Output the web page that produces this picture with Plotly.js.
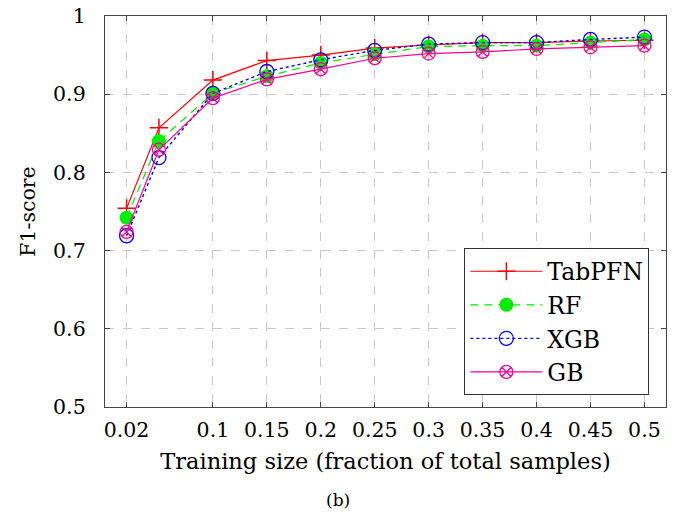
<!DOCTYPE html>
<html>
<head>
<meta charset="utf-8">
<script src="https://cdn.plot.ly/plotly-3.0.1.min.js"></script>
<style>html,body{margin:0;padding:0;background:#fff;}#chart{width:677px;height:519px;}</style>
</head>
<body>
<div id="chart"></div>
<script>
const trainSize = [0.02, 0.05, 0.1, 0.15, 0.2, 0.25, 0.3, 0.35, 0.4, 0.45, 0.5];
const tabpfn = [0.754, 0.857, 0.918, 0.943, 0.950, 0.959, 0.963, 0.966, 0.966, 0.968, 0.969];
const rf     = [0.742, 0.840, 0.901, 0.923, 0.940, 0.951, 0.961, 0.962, 0.962, 0.966, 0.970];
const xgb    = [0.719, 0.819, 0.901, 0.929, 0.944, 0.956, 0.964, 0.966, 0.966, 0.970, 0.973];
const gb     = [0.724, 0.829, 0.895, 0.919, 0.932, 0.946, 0.952, 0.954, 0.958, 0.960, 0.962];
const xTicks = [0.02, 0.1, 0.15, 0.2, 0.25, 0.3, 0.35, 0.4, 0.45, 0.5];
const xTickText = ["0.02", "0.1", "0.15", "0.2", "0.25", "0.3", "0.35", "0.4", "0.45", "0.5"];
const yTicks = [0.5, 0.6, 0.7, 0.8, 0.9, 1];
const yTickText = ["0.5", "0.6", "0.7", "0.8", "0.9", "1"];

const FONT = "DejaVu Serif";
const MAG = "#ff0090";

const traces = [
  {x: trainSize, y: tabpfn, name: "TabPFN", mode: "lines+markers",
   line: {color: "#ff0000", width: 1.2},
   marker: {symbol: "cross-thin-open", size: 13, color: "#ff0000", line: {color: "#ff0000", width: 1.5}}},
  {x: trainSize, y: rf, name: "RF", mode: "lines+markers",
   line: {color: "#00ee00", width: 1.2, dash: "8px,6px"},
   marker: {symbol: "circle", size: 14, color: "#00ee00", line: {width: 0}}},
  {x: trainSize, y: xgb, name: "XGB", mode: "lines+markers",
   line: {color: "#0000ff", width: 1.4, dash: "dot"},
   marker: {symbol: "circle-open", size: 14, color: "#0000ff", line: {color: "#0000ff", width: 1.3}}},
  {x: trainSize, y: gb, name: "GB", mode: "lines+markers",
   line: {color: MAG, width: 1.2},
   marker: {symbol: "circle-x-open", size: 13, color: MAG, line: {color: MAG, width: 1.3}}}
];

const axisCommon = {
  showline: true, linecolor: "#444", linewidth: 1.2, mirror: "ticks",
  ticks: "inside", ticklen: 5, tickcolor: "#444", tickwidth: 1,
  showgrid: true, gridcolor: "#c8c8c8", griddash: "dash", gridwidth: 1,
  zeroline: false, tickfont: {family: FONT, size: 20.5, color: "#000"}
};

const layout = {
  width: 677, height: 519,
  margin: {l: 104.5, r: 11, t: 16, b: 111.5},
  paper_bgcolor: "#fff", plot_bgcolor: "#fff",
  font: {family: FONT, color: "#000"},
  showlegend: true,
  xaxis: Object.assign({}, axisCommon, {
    range: [0, 0.52], tickvals: xTicks, ticktext: xTickText, ticklabelstandoff: 4,
    title: {text: "Training size (fraction of total samples)", font: {family: FONT, size: 22.5}, standoff: 12}
  }),
  yaxis: Object.assign({}, axisCommon, {
    range: [0.5, 1], tickvals: yTicks, ticktext: yTickText, ticklabelstandoff: 14,
    title: {text: "F1-score", font: {family: FONT, size: 20.5}, standoff: 12}
  }),
  legend: {
    x: 0.97, y: 0.03, xanchor: "right", yanchor: "bottom",
    bgcolor: "#fff", bordercolor: "#333", borderwidth: 1.2,
    font: {family: FONT, size: 23.5, color: "#000"},
    itemwidth: 72
  },
  annotations: [
    {text: "(b)", xref: "paper", yref: "paper", x: 0.416, y: -0.237, xanchor: "center", yanchor: "middle",
     showarrow: false, font: {family: FONT, size: 17, color: "#000"}}
  ]
};

Plotly.newPlot("chart", traces, layout, {displayModeBar: false, staticPlot: true});
</script>
</body>
</html>
